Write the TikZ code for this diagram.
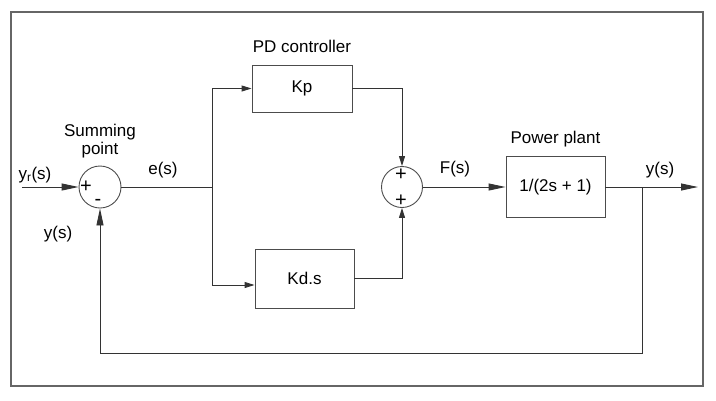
\documentclass[tikz,border=0pt]{standalone}
\usepackage{fontspec}
\setmainfont{Liberation Sans}
\usetikzlibrary{positioning,arrows.meta}

\begin{document}
\begin{tikzpicture}[x=1pt, y=-1pt, font=\fontsize{17}{18}\selectfont,
  line/.style={draw=black!80, line width=0.9pt},
  bigarrow/.style={line, -{Triangle[length=17pt,width=7pt]}},
  smallarrow/.style={line, -{Triangle[length=10pt,width=6pt]}},
  block/.style={draw=black!70, line width=0.9pt, minimum width=99pt, inner sep=0pt},
  sum/.style={circle, draw=black!70, line width=0.9pt, minimum size=42pt, inner sep=0pt},
  sign/.style={inner sep=0pt, font=\fontsize{20}{20}\selectfont},
  lbl/.style={inner sep=1pt}]
\useasboundingbox (0,0) rectangle (716,400);
\draw[black!60, line width=1.4pt] (11,12) rectangle (703,386);

% blocks and summing junctions
\node[sum] (sum1) at (100,187) {};
\node[block, minimum width=100pt, minimum height=47pt] (kp) at (302,88.5) {Kp};
\node[block, minimum height=59pt] (kd) at (304.5,278.5) {Kd.s};
\node[sum, minimum size=41pt] (sum2) at (402,187) {};
\node[block, minimum height=61pt] (plant) at (555.5,187) {1/(2s + 1)};

\node[lbl, above=11pt of kp] (pdlbl) {PD controller};
\node[lbl, above=6pt of sum1, align=center] (sumlbl) {Summing\\point};
\node[lbl, above=8pt of plant] (plantlbl) {Power plant};

% signs
\node[sign] (p1) at (86,187) {+};
\node[sign] (m1) at (98,202) {-};
\node[sign] (p2) at (401,175) {+};
\node[sign] (p3) at (401,201) {+};

% signal labels
\node[lbl] (yrlbl) at (35,175) {y\textsubscript{r}(s)};
\node[lbl] (elbl) at (163,170) {e(s)};
\node[lbl] (flbl) at (455,169) {F(s)};
\node[lbl] (ylbl) at (660,170) {y(s)};
\node[lbl] (fblbl) at (58,234) {y(s)};

\coordinate (in) at (22,187);
\coordinate (br) at (212,187);
\coordinate (fb) at (642,187);
\coordinate (fbl) at (642,353);
\coordinate (out) at (698,187);

\draw[bigarrow] (in) -- (sum1);
\draw[line] (sum1) -- (br);
\draw[smallarrow] (br) |- (kp);
\draw[smallarrow] (br) |- ([yshift=-6.5pt]kd.west);
\draw[smallarrow] (kp) -| (sum2);
\draw[smallarrow] (kd) -| (sum2);
\draw[bigarrow] (sum2) -- (plant);
\draw[bigarrow] (plant) -- (out);
\draw[bigarrow] (fb) -- (fbl) -| (sum1);
\end{tikzpicture}
\end{document}
